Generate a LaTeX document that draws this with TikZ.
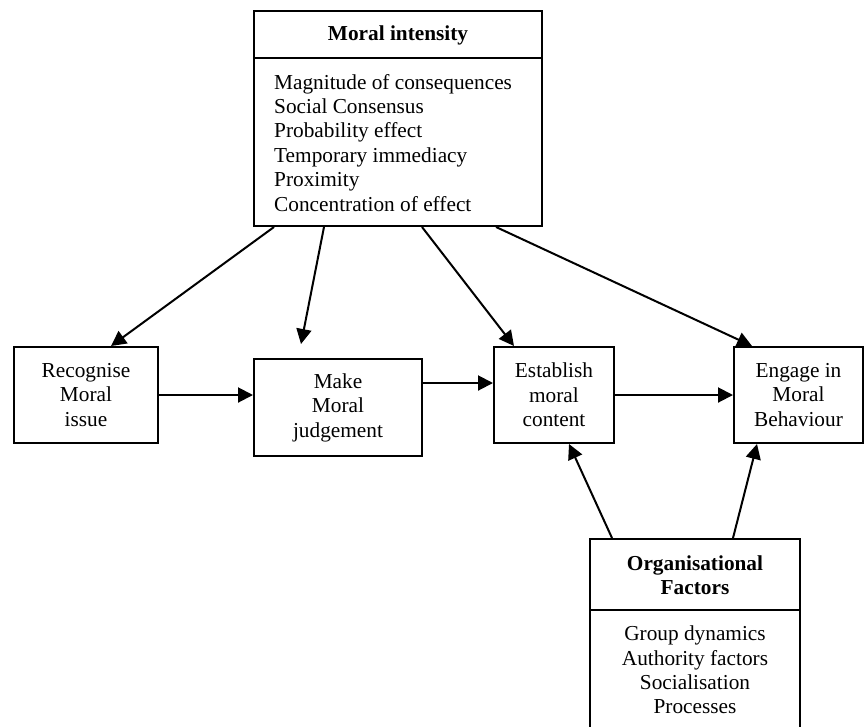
\documentclass[tikz,border=0pt]{standalone}
\usepackage{fontspec}
\setmainfont{Liberation Serif}
\usetikzlibrary{arrows.meta,calc}
\begin{document}
\begin{tikzpicture}[x=1pt,y=-1pt,
  box/.style={draw, line width=2pt, rectangle, inner sep=0pt, align=center,
    font=\fontsize{21.3}{24.4}\selectfont},
  txt/.style={inner sep=0pt, font=\fontsize{21.3}{24.4}\selectfont},
  heading/.style={inner sep=0pt, align=center, font=\fontsize{21.3}{24.4}\selectfont\bfseries},
  arr/.style={line width=2pt, -{Triangle[length=15pt,width=15pt]}},
  rule/.style={line width=2pt}
]
\useasboundingbox (0,0) rectangle (866,726);
\clip (0,0) rectangle (866,726);

% Moral intensity box
\node[box, minimum width=288pt, minimum height=215pt] (mi) at (398,118.5) {};
\draw[rule] ([yshift=-48pt]mi.north west) -- ([yshift=-48pt]mi.north east);
\node[heading] (mititle) at (398,35) {Moral intensity};
\node[txt, align=left, anchor=west] (mibody) at (274,142.75)
  {Magnitude of consequences\\Social Consensus\\Probability effect\\Temporary immediacy\\Proximity\\Concentration of effect};

% Process steps
\node[box, minimum width=144pt, minimum height=96pt] (rec) at (86,395) {Recognise\\Moral\\issue};
\node[box, minimum width=168pt, minimum height=97pt] (make) at (338,407.5) {Make\\Moral\\judgement};
\node[box, minimum width=120pt, minimum height=96pt] (est) at (554,395) {Establish\\moral\\content};
\node[box, minimum width=129pt, minimum height=96pt] (eng) at (798.5,395) {Engage in\\Moral\\Behaviour};

% Organisational factors box
\node[box, minimum width=210pt, minimum height=201pt] (org) at (695,639.5) {};
\draw[rule] ([yshift=-72pt]org.north west) -- ([yshift=-72pt]org.north east);
\node[heading] (orgtitle) at (695,575) {Organisational\\Factors};
\node[txt, align=center] (orgbody) at (695,670)
  {Group dynamics\\Authority factors\\Socialisation\\Processes};

% Arrows from moral intensity
\coordinate (t1) at ([xshift=21pt]mi.south west);
\coordinate (t2) at ([xshift=71pt]mi.south west);
\coordinate (t3) at ([xshift=169pt]mi.south west);
\coordinate (t4) at ([xshift=243pt]mi.south west);
\coordinate (makein) at ([xshift=48pt,yshift=14pt]make.north west);
\draw[arr] (t1) -- ([xshift=98pt]rec.north west);
\draw[arr] (t2) -- (makein);
\draw[arr] (t3) -- ([xshift=21pt]est.north west);
\draw[arr] (t4) -- ([xshift=19pt]eng.north west);

% Sequence of steps
\draw[arr] (rec.east) -- (rec.east -| make.west);
\coordinate (estin) at ([yshift=12pt]est.west);
\draw[arr] (make.east |- estin) -- (estin);
\draw[arr] (est.east) -- (eng.west);

% Arrows from organisational factors
\draw[arr] ([xshift=23pt]org.north west) -- ([xshift=76pt]est.south west);
\draw[arr] ([xshift=144pt]org.north west) -- ([xshift=24pt]eng.south west);
\end{tikzpicture}
\end{document}
